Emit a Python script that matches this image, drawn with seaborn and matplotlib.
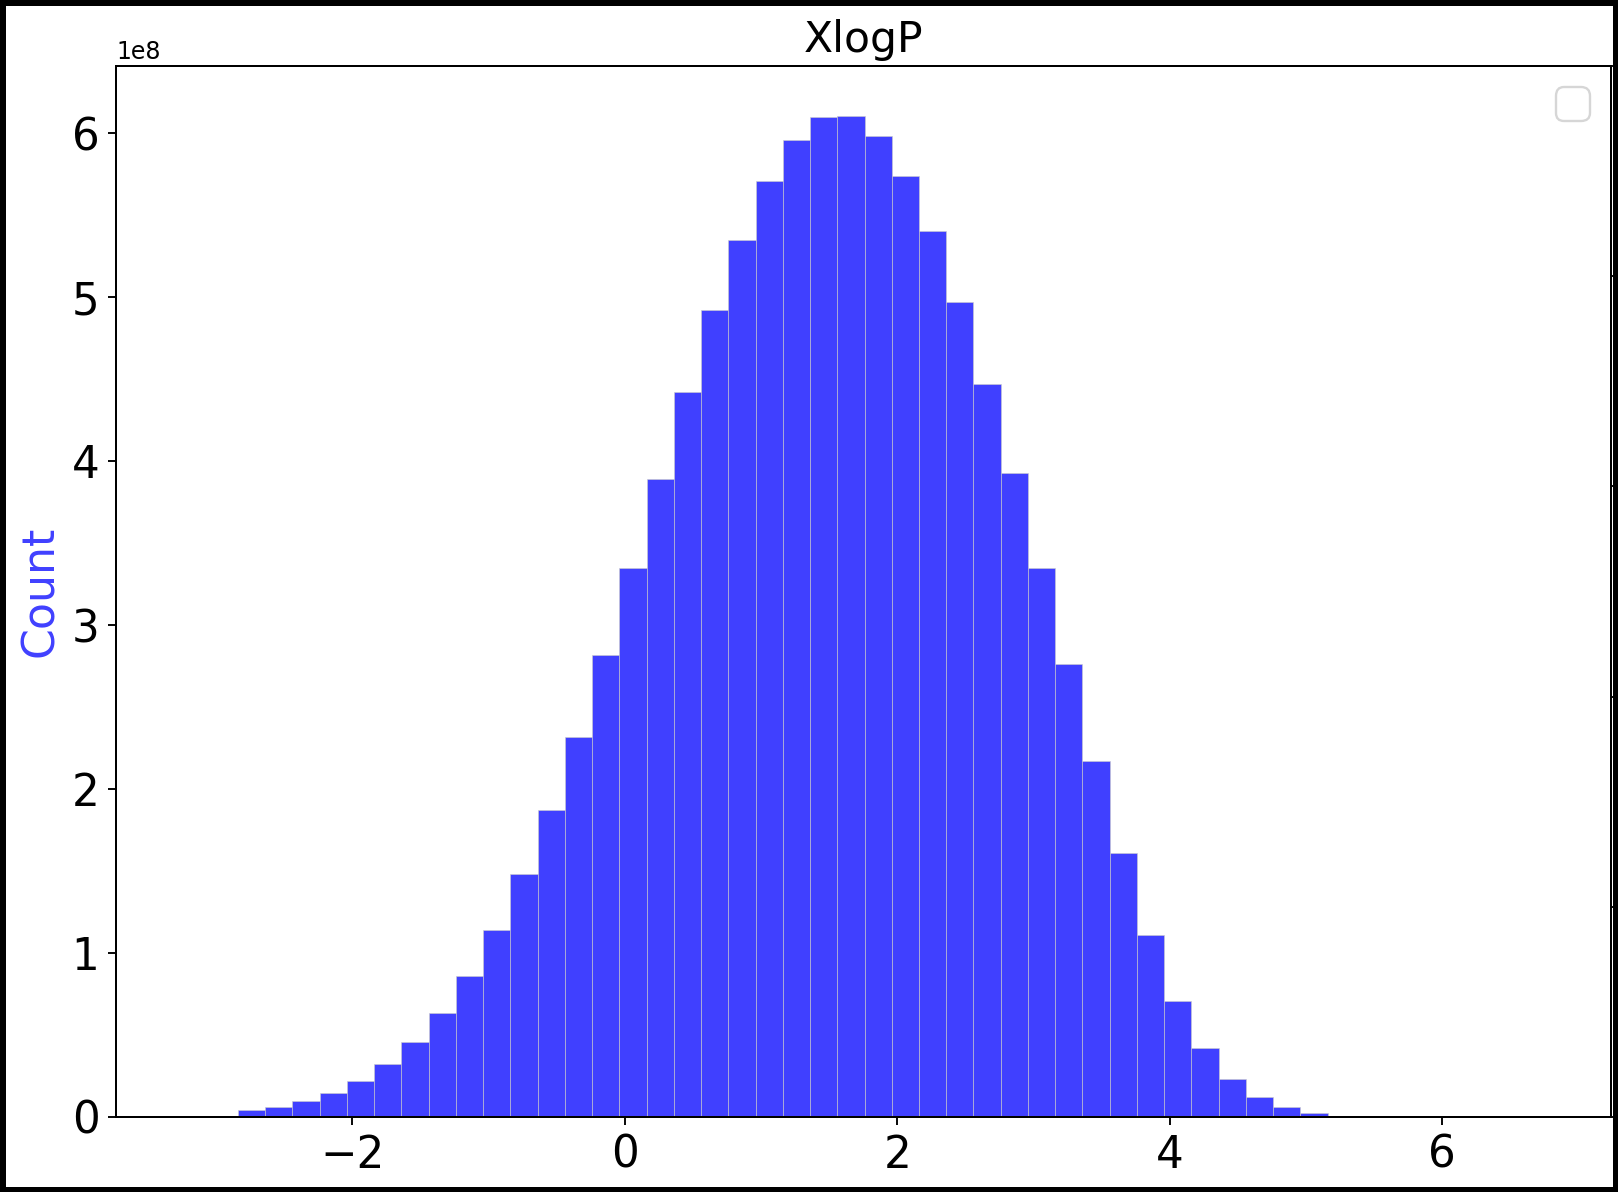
import numpy as np
import pandas as pd
import matplotlib
matplotlib.use("Agg")
import matplotlib.pyplot as plt
import seaborn as sns

# histogram: bin width 0.2, first left edge -3.84
bin_width = 0.2
first_edge = -3.84
counts_1e8 = [0, 0, 0, 0,
              0.008, 0.04, 0.06, 0.098, 0.148, 0.221, 0.321, 0.455, 0.632, 0.86,
              1.14, 1.48, 1.87, 2.32, 2.82, 3.35, 3.89, 4.42, 4.92, 5.35,
              5.71, 5.96, 6.096, 6.104, 5.98, 5.74, 5.40, 4.97, 4.47, 3.93,
              3.35, 2.76, 2.17, 1.61, 1.11, 0.709, 0.419, 0.232, 0.122, 0.059,
              0.022, 0.008,
              0, 0, 0, 0, 0, 0, 0, 0, 0, 0]

n_bins = len(counts_1e8)
edges = first_edge + bin_width * np.arange(n_bins + 1)
df = pd.DataFrame({"xlogp": edges[:-1] + bin_width / 2,
                   "count": np.array(counts_1e8) * 1e8})

dpi = 170
fig, ax = plt.subplots(figsize=(1618 / dpi, 1192 / dpi), dpi=dpi)
fig.subplots_adjust(left=116 / 1618, right=1611 / 1618, bottom=75 / 1192, top=1126 / 1192)

sns.histplot(data=df, x="xlogp", weights="count", bins=list(edges), color="blue",
             alpha=0.75, edgecolor="0.8", linewidth=0.25, ax=ax)

ax.set_xlim(-3.735, 7.24)
ax.set_title("XlogP", fontsize=18)
ax.set_xlabel("")
ax.set_ylabel("Count", fontsize=18.75, color=(0.25, 0.25, 1.0))
ax.tick_params(labelsize=18.5)
ax.legend(loc="upper right", fontsize=18)

# empty second axis on the right; only its tick marks show in the picture
ax2 = ax.twinx()
ax2.tick_params(labelright=False)

fig.patch.set_edgecolor("black")
fig.patch.set_linewidth(4)

fig.savefig("out.png", dpi=dpi, edgecolor=fig.get_edgecolor())
